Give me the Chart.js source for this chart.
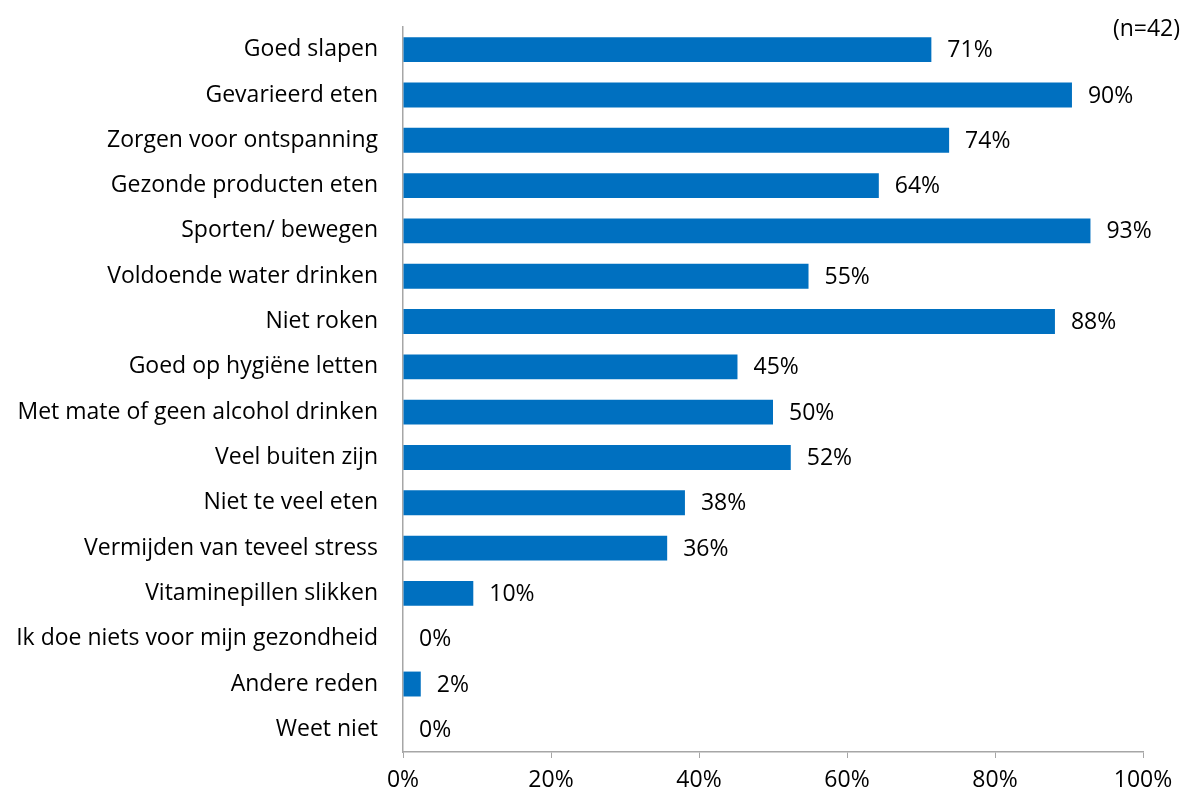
<!DOCTYPE html>
<html>
<head>
<meta charset="utf-8">
<script src="https://cdn.jsdelivr.net/npm/chart.js@4"></script>
<style>
  html, body { margin: 0; padding: 0; background: #fff; }
  #wrap { width: 1186px; height: 795px; }
</style>
</head>
<body>
<div id="wrap"><canvas id="grafiek" width="1186" height="795"></canvas></div>
<script>
var categorieen = [
    'Goed slapen',
    'Gevarieerd eten',
    'Zorgen voor ontspanning',
    'Gezonde producten eten',
    'Sporten/ bewegen',
    'Voldoende water drinken',
    'Niet roken',
    'Goed op hygiëne letten',
    'Met mate of geen alcohol drinken',
    'Veel buiten zijn',
    'Niet te veel eten',
    'Vermijden van teveel stress',
    'Vitaminepillen slikken',
    'Ik doe niets voor mijn gezondheid',
    'Andere reden',
    'Weet niet'
];
var percentages = [71.4, 90.4, 73.8, 64.3, 92.9, 54.8, 88.1, 45.2, 50.0, 52.4, 38.1, 35.7, 9.5, 0, 2.4, 0];
var xTicks = [0, 20, 40, 60, 80, 100];
var notitie = '(n=42)';

var lettertype = '"Open Sans", sans-serif';

// labels achter de balken + (n=42)
var labelPlugin = {
    id: 'waardeLabels',
    afterDatasetsDraw: function (chart) {
        var c = chart.ctx;
        var meta = chart.getDatasetMeta(0);
        c.save();
        c.font = '23px ' + lettertype;
        c.fillStyle = '#000';
        c.textBaseline = 'middle';
        c.textAlign = 'left';
        meta.data.forEach(function (bar, i) {
            c.fillText(Math.round(percentages[i]) + '%', bar.x + 16, bar.y + 1);
        });
        c.textAlign = 'right';
        c.fillText(notitie, chart.width - 6, 29);
        c.restore();
    }
};

var grafiek = new Chart(document.getElementById('grafiek').getContext('2d'), {
    type: 'bar',
    data: {
        labels: categorieen,
        datasets: [{
            data: percentages,
            backgroundColor: '#0070C0',
            barPercentage: 0.55,
            categoryPercentage: 1
        }]
    },
    options: {
        indexAxis: 'y',
        responsive: false,
        animation: false,
        layout: { padding: { top: 27, right: 43, left: 0, bottom: 0 } },
        plugins: {
            legend: { display: false },
            tooltip: { enabled: false }
        },
        scales: {
            x: {
                min: 0,
                max: 100,
                afterBuildTicks: function (axis) {
                    axis.ticks = xTicks.map(function (v) { return { value: v }; });
                },
                afterFit: function (axis) { axis.height = 43; },
                grid: {
                    drawOnChartArea: false,
                    drawTicks: true,
                    tickLength: 6,
                    color: '#A6A6A6'
                },
                border: { display: true, color: '#A6A6A6', width: 1.5 },
                ticks: {
                    padding: 9,
                    color: '#000',
                    font: { family: lettertype, size: 23 },
                    callback: function (v) { return v + '%'; }
                }
            },
            y: {
                afterFit: function (axis) {
                    axis.width = 403;
                    axis.paddingTop = 0;
                    axis.paddingBottom = 0;
                },
                grid: { display: false },
                border: { display: true, color: '#A6A6A6', width: 1.5 },
                ticks: {
                    padding: 17,
                    color: '#000',
                    autoSkip: false,
                    font: { family: lettertype, size: 23 }
                }
            }
        }
    },
    plugins: [labelPlugin]
});
</script>
</body>
</html>
